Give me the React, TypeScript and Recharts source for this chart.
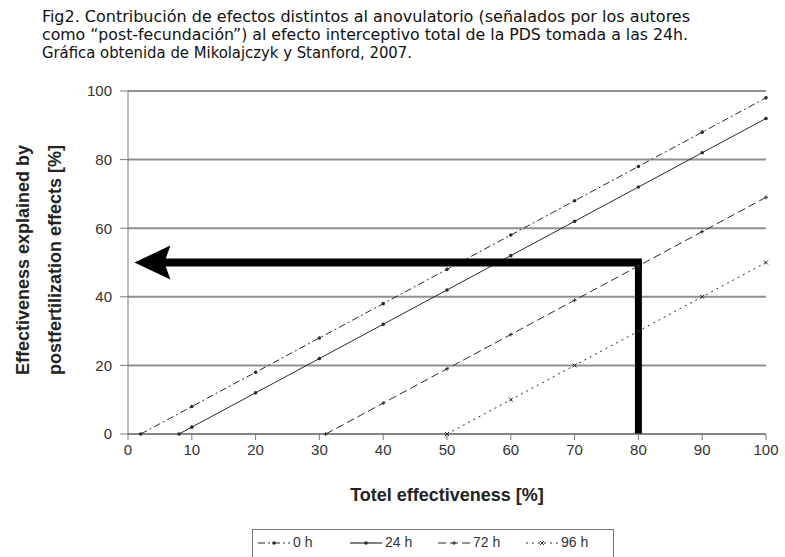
import { LineChart, Line, XAxis, YAxis, CartesianGrid, ReferenceLine, ReferenceDot } from "recharts";

const TITLE_LINES = [
  "Fig2. Contribución de efectos distintos al anovulatorio (señalados por los autores",
  "como \u201cpost-fecundación\u201d) al efecto interceptivo total de la PDS tomada a las 24h.",
  "Gráfica obtenida de Mikolajczyk y Stanford, 2007.",
];

const X_TICKS = [0, 10, 20, 30, 40, 50, 60, 70, 80, 90, 100];
const Y_TICKS = [0, 20, 40, 60, 80, 100];

const H0_X = [2, 10, 20, 30, 40, 50, 60, 70, 80, 90, 100];
const H0_Y = [0, 8, 18, 28, 38, 48, 58, 68, 78, 88, 98];
const H24_X = [8, 10, 20, 30, 40, 50, 60, 70, 80, 90, 100];
const H24_Y = [0, 2, 12, 22, 32, 42, 52, 62, 72, 82, 92];
const H72_X = [31, 40, 50, 60, 70, 80, 90, 100];
const H72_Y = [0, 9, 19, 29, 39, 49, 59, 69];
const H96_X = [50, 60, 70, 80, 90, 100];
const H96_Y = [0, 10, 20, 30, 40, 50];

// arrow: up from x=80 at y=0 to y=50, then left to x≈1
const ARROW_X = 80;
const ARROW_Y = 50;
const ARROW_TIP = 1;

const toRows = (xs: number[], ys: number[]) => xs.map((x, i) => ({ x, y: ys[i] }));

const INK = "#2a2a2a";

type Series = { name: string; data: { x: number; y: number }[]; dash?: string; marker: "dot" | "plus" | "x" };

const SERIES: Series[] = [
  { name: "0 h", data: toRows(H0_X, H0_Y), dash: "7 3 2 3", marker: "dot" },
  { name: "24 h", data: toRows(H24_X, H24_Y), marker: "dot" },
  { name: "72 h", data: toRows(H72_X, H72_Y), dash: "8 4", marker: "plus" },
  { name: "96 h", data: toRows(H96_X, H96_Y), dash: "2 4", marker: "x" },
];

function Marker({ cx, cy, kind }: { cx?: number; cy?: number; kind: string }) {
  if (cx == null || cy == null) return null;
  if (kind === "x")
    return (
      <g stroke={INK} strokeWidth={1}>
        <line x1={cx - 2} y1={cy - 2} x2={cx + 2} y2={cy + 2} />
        <line x1={cx - 2} y1={cy + 2} x2={cx + 2} y2={cy - 2} />
      </g>
    );
  if (kind === "plus")
    return (
      <g stroke={INK} strokeWidth={1}>
        <line x1={cx - 2} y1={cy} x2={cx + 2} y2={cy} />
        <line x1={cx} y1={cy - 2} x2={cx} y2={cy + 2} />
      </g>
    );
  return <circle cx={cx} cy={cy} r={1.8} fill={INK} />;
}

function ArrowHead({ cx, cy }: { cx?: number; cy?: number }) {
  if (cx == null || cy == null) return null;
  return (
    <path
      d={`M${cx},${cy} L${cx + 36},${cy - 17} L${cx + 30},${cy} L${cx + 36},${cy + 17} Z`}
      fill="#000"
    />
  );
}

function LegendSample({ s }: { s: Series }) {
  return (
    <svg width={34} height={10} style={{ verticalAlign: "middle", marginRight: 2 }}>
      <line x1={1} y1={5} x2={33} y2={5} stroke={INK} strokeWidth={1.2} strokeDasharray={s.dash} />
      <Marker cx={17} cy={5} kind={s.marker} />
    </svg>
  );
}

export default function App() {
  return (
    <div style={{ position: "absolute", left: 0, top: 0, width: 785, height: 557, background: "#fff", overflow: "hidden" }}>
      <svg width={785} height={80} style={{ position: "absolute", left: 0, top: 0 }}>
        {TITLE_LINES.map((t, i) => (
          <text
            key={i}
            x={42}
            y={22 + i * 18}
            fontFamily="'DejaVu Sans Condensed', 'Liberation Sans Narrow', sans-serif"
            fontSize={16}
            fill="#111"
            textLength={[648, 646, 370][i]}
            lengthAdjust="spacingAndGlyphs"
          >
            {t}
          </text>
        ))}
      </svg>

      <div style={{ position: "absolute", left: 0, top: 0 }}>
        <LineChart width={785} height={557} margin={{ top: 91, right: 19, bottom: 83, left: 68 }}>
          <CartesianGrid horizontal vertical={false} stroke="#8f8f8f" strokeWidth={2} />
          <XAxis
            type="number"
            dataKey="x"
            domain={[0, 100]}
            ticks={X_TICKS}
            allowDuplicatedCategory={false}
            stroke="#7a7a7a"
            tickSize={6}
            tick={{ fill: "#333", fontSize: 15, fontFamily: "Liberation Sans, Arial, sans-serif" }}
            tickMargin={4}
            height={40}
          />
          <YAxis
            type="number"
            domain={[0, 100]}
            ticks={Y_TICKS}
            stroke="#7a7a7a"
            width={60}
            tickSize={8}
            tickMargin={8}
            tick={{ fill: "#333", fontSize: 15, fontFamily: "Liberation Sans, Arial, sans-serif" }}
          />
          {SERIES.map((s) => (
            <Line
              key={s.name}
              data={s.data}
              dataKey="y"
              name={s.name}
              type="linear"
              stroke={INK}
              strokeWidth={1}
              strokeDasharray={s.dash}
              dot={(p: any) => <Marker key={`${s.name}-${p.index}`} cx={p.cx} cy={p.cy} kind={s.marker} />}
              isAnimationActive={false}
            />
          ))}
          <ReferenceLine
            segment={[
              { x: ARROW_X, y: 0 },
              { x: ARROW_X, y: ARROW_Y },
            ]}
            stroke="#000"
            strokeWidth={7}
          />
          <ReferenceLine
            segment={[
              { x: ARROW_X + 0.55, y: ARROW_Y },
              { x: ARROW_TIP + 4, y: ARROW_Y },
            ]}
            stroke="#000"
            strokeWidth={8}
          />
          <ReferenceDot x={ARROW_TIP} y={ARROW_Y} shape={(p: any) => <ArrowHead cx={p.cx} cy={p.cy} />} />
        </LineChart>
      </div>

      <svg width={785} height={557} style={{ position: "absolute", left: 0, top: 0, pointerEvents: "none" }}>
        <text
          x={447}
          y={501}
          textAnchor="middle"
          fontFamily="Liberation Sans, Arial, sans-serif"
          fontWeight="bold"
          fontSize={18}
          fill="#222"
        >
          Totel effectiveness [%]
        </text>
        <text
          transform="translate(29,260) rotate(-90)"
          textAnchor="middle"
          fontFamily="Liberation Sans, Arial, sans-serif"
          fontWeight="bold"
          fontSize={18}
          fill="#222"
        >
          Effectiveness explained by
        </text>
        <text
          transform="translate(61,260) rotate(-90)"
          textAnchor="middle"
          fontFamily="Liberation Sans, Arial, sans-serif"
          fontWeight="bold"
          fontSize={18}
          fill="#222"
        >
          postfertilization effects [%]
        </text>
      </svg>

      <div
        style={{
          position: "absolute",
          left: 252,
          top: 529,
          width: 362,
          height: 40,
          border: "1.5px solid #777",
          boxSizing: "border-box",
          fontFamily: "Liberation Sans, Arial, sans-serif",
          fontSize: 14,
          color: "#333",
          paddingLeft: 4,
          paddingTop: 4,
          whiteSpace: "nowrap",
        }}
      >
        {SERIES.map((s) => (
          <span key={s.name} style={{ display: "inline-block", width: s.name === "0 h" ? 92 : 88 }}>
            <LegendSample s={s} />
            {s.name}
          </span>
        ))}
      </div>
    </div>
  );
}
